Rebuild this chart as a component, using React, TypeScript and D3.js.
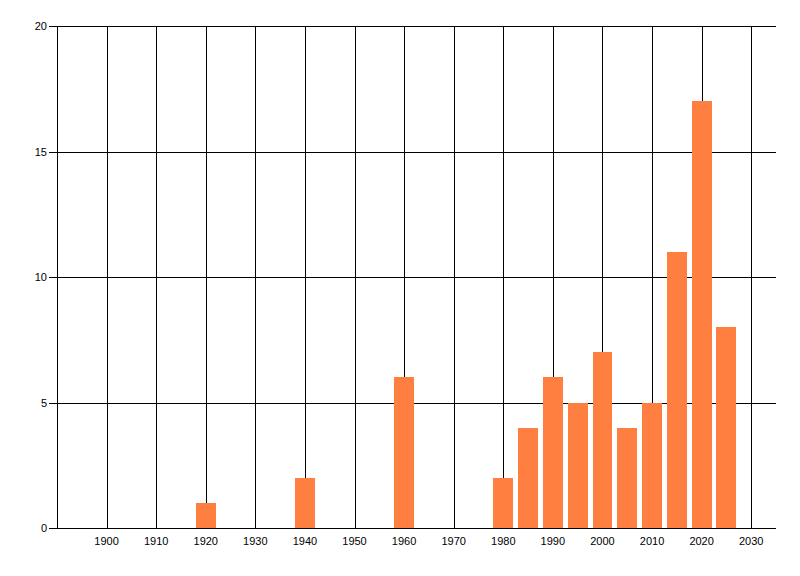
import React, { useEffect, useRef } from 'react';
import * as d3 from 'd3';

const years = [1920, 1940, 1960, 1980, 1985, 1990, 1995, 2000, 2005, 2010, 2015, 2020, 2025];
const counts = [1, 2, 6, 2, 4, 6, 5, 7, 4, 5, 11, 17, 8];
const xTicks = [1900, 1910, 1920, 1930, 1940, 1950, 1960, 1970, 1980, 1990, 2000, 2010, 2020, 2030];
const yTicks = [0, 5, 10, 15, 20];

const App: React.FC = () => {
  const svgRef = useRef<SVGSVGElement>(null);

  useEffect(() => {
    const svg = d3.select(svgRef.current);
    svg.selectAll('*').remove();

    const width = 800;
    const height = 576;
    const margin = { top: 26, right: 24, bottom: 48, left: 57 };

    const x = d3.scaleLinear()
      .domain([1890, 2035])
      .range([margin.left, width - margin.right]);

    const y = d3.scaleLinear()
      .domain([0, 20])
      .range([height - margin.bottom, margin.top]);

    const font = '"Liberation Sans", Arial, sans-serif';

    // vertical grid
    svg.append('g')
      .selectAll('line')
      .data(xTicks)
      .join('line')
      .attr('x1', d => Math.round(x(d)) + 0.5)
      .attr('x2', d => Math.round(x(d)) + 0.5)
      .attr('y1', y(20))
      .attr('y2', y(0))
      .attr('stroke', '#000');

    // horizontal grid + tick marks
    svg.append('g')
      .selectAll('line')
      .data(yTicks)
      .join('line')
      .attr('x1', margin.left - 8)
      .attr('x2', width - margin.right)
      .attr('y1', d => Math.round(y(d)) + 0.5)
      .attr('y2', d => Math.round(y(d)) + 0.5)
      .attr('stroke', '#000');

    // bars
    svg.append('g')
      .selectAll('rect')
      .data(years.map((yr, i) => ({ yr, v: counts[i] })))
      .join('rect')
      .attr('x', d => Math.round(x(d.yr - 2)))
      .attr('y', d => Math.round(y(d.v)))
      .attr('width', d => Math.round(x(d.yr + 2)) - Math.round(x(d.yr - 2)))
      .attr('height', d => Math.round(y(0)) - Math.round(y(d.v)))
      .attr('fill', '#ff7f41');

    // axes lines
    svg.append('line')
      .attr('x1', margin.left + 0.5)
      .attr('x2', margin.left + 0.5)
      .attr('y1', y(20))
      .attr('y2', y(0) + 1)
      .attr('stroke', '#000');

    svg.append('line')
      .attr('x1', margin.left)
      .attr('x2', width - margin.right)
      .attr('y1', Math.round(y(0)) + 0.5)
      .attr('y2', Math.round(y(0)) + 0.5)
      .attr('stroke', '#000');

    // x labels
    svg.append('g')
      .selectAll('text')
      .data(xTicks)
      .join('text')
      .attr('x', d => x(d))
      .attr('y', y(0) + 17)
      .attr('text-anchor', 'middle')
      .attr('font-family', font)
      .attr('font-size', 11)
      .attr('fill', '#000')
      .text(d => d);

    // y labels
    svg.append('g')
      .selectAll('text')
      .data(yTicks)
      .join('text')
      .attr('x', margin.left - 10)
      .attr('y', d => y(d) + 4)
      .attr('text-anchor', 'end')
      .attr('font-family', font)
      .attr('font-size', 11)
      .attr('fill', '#000')
      .text(d => d);
  }, []);

  return (
    <svg
      ref={svgRef}
      width={800}
      height={576}
      shapeRendering="crispEdges"
      style={{ position: 'absolute', left: 0, top: 0, background: '#fff' }}
    />
  );
};

export default App;
